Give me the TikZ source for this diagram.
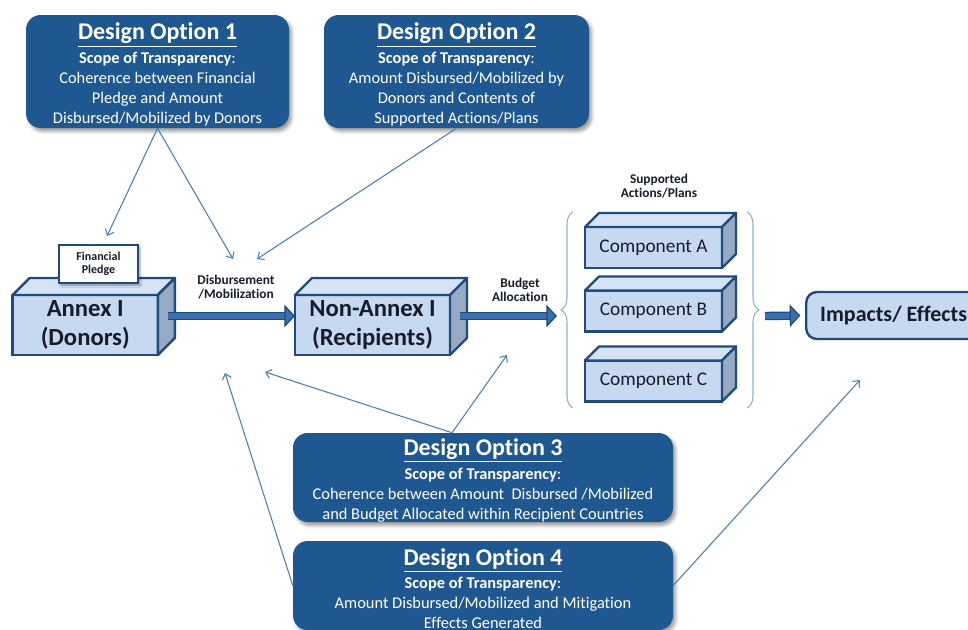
\documentclass[tikz,border=0pt]{standalone}
\usepackage{fontspec}
\setmainfont{Carlito}[Ligatures=NoCommon]
\usetikzlibrary{arrows.meta,calc,shadows.blur,decorations.pathreplacing}

\definecolor{optblue}{RGB}{31,87,145}
\definecolor{edgeblue}{RGB}{33,74,125}
\definecolor{facefill}{RGB}{198,217,241}
\definecolor{topfill}{RGB}{214,227,244}
\definecolor{sidefill}{RGB}{150,170,198}
\definecolor{linkblue}{RGB}{74,126,193}
\definecolor{flowblue}{RGB}{58,110,172}
\definecolor{inkdark}{RGB}{22,28,42}
\definecolor{bracecol}{RGB}{140,175,220}

\newcommand{\optiontitle}[1]{{\fontsize{18}{20}\selectfont\bfseries\rule{0pt}{17pt}\underline{#1}}\\[2.5pt]
  \textbf{Scope of Transparency}:\\}

\begin{document}
\begin{tikzpicture}[x=0.75pt, y=-0.75pt,
  option/.style={rounded corners=11pt, fill=optblue, text=white, align=center,
    font=\fontsize{12.3}{15}\selectfont, inner sep=0pt,
    blur shadow={shadow xshift=2pt, shadow yshift=-2.5pt, shadow blur radius=2.5pt}},
  front/.style={draw=edgeblue, line width=1.8pt, fill=facefill, text=inkdark,
    align=center, inner sep=0pt, outer sep=0pt},
  topface/.style={draw=edgeblue, line width=1.8pt, fill=topfill, line join=round},
  sideface/.style={draw=edgeblue, line width=1.8pt, fill=sidefill, line join=round},
  boxfont/.style={font=\fontsize{18.5}{21.75}\selectfont\bfseries},
  compfont/.style={font=\fontsize{14.5}{16}\selectfont},
  tag/.style={align=center, text=inkdark, font=\fontsize{10}{10.5}\selectfont\bfseries},
  link/.style={draw=linkblue, line width=0.8pt, -{Straight Barb[length=4pt, width=7pt]}},
  flow/.style={draw=edgeblue, line width=0.9pt, double=flowblue, double distance=4.5pt,
    -{Triangle[length=8pt, width=17pt, fill=flowblue]}},
  bracket/.style={draw=bracecol, line width=0.8pt, decorate,
    decoration={brace, amplitude=9pt}}
]
\clip (0,0) rectangle (968,629);

% design options
\node[option, minimum width=197.25pt, minimum height=84.75pt] (do1) at (157.5,71.5)
  {\optiontitle{Design Option 1}
   Coherence between Financial\\
   Pledge and Amount\\
   Disbursed/Mobilized by Donors};
\node[option, minimum width=198.75pt, minimum height=84.75pt] (do2) at (456.5,71.5)
  {\optiontitle{Design Option 2}
   Amount Disbursed/Mobilized by\\
   Donors and Contents of\\
   Supported Actions/Plans};
\node[option, minimum width=285pt, minimum height=66.75pt] (do3) at (483,477.5)
  {\optiontitle{Design Option 3}
   Coherence between Amount\ \ Disbursed /Mobilized\\
   and Budget Allocated within Recipient Countries};
\node[option, minimum width=285pt, minimum height=66.75pt] (do4) at (483,585.5)
  {\optiontitle{Design Option 4}
   Amount Disbursed/Mobilized and Mitigation\\
   Effects Generated};

% boxes
\node[front, boxfont, minimum width=109pt, minimum height=45pt] (annex) at (85.25,325)
  {Annex I\\(Donors)};
\node[front, boxfont, minimum width=116.25pt, minimum height=45pt] (nonannex) at (372.5,325)
  {Non-Annex I\\(Recipients)};
\node[front, compfont, minimum width=102.75pt, minimum height=30.75pt] (compA) at (653.5,247.5)
  {Component A};
\node[front, compfont, minimum width=102.75pt, minimum height=30.75pt] (compB) at (653.5,311)
  {Component B};
\node[front, compfont, minimum width=102.75pt, minimum height=30.75pt] (compC) at (653.5,381)
  {Component C};

\foreach \b/\d in {annex/17, nonannex/17, compA/14, compB/14, compC/14}{
  \draw[topface] (\b.north west) -- ++(\d,-\d) -- ($(\b.north east)+(\d,-\d)$)
    -- (\b.north east) -- cycle;
  \draw[sideface] (\b.north east) -- ++(\d,-\d) -- ($(\b.south east)+(\d,-\d)$)
    -- (\b.south east) -- cycle;
}

\node[draw=edgeblue, line width=1pt, fill=white, tag, font=\fontsize{9}{10}\selectfont\bfseries,
  minimum width=59.25pt, minimum height=28.5pt, inner sep=0pt,
  blur shadow={shadow xshift=1.5pt, shadow yshift=-1.5pt, shadow blur radius=1.5pt}]
  (pledge) at (98.5,264) {Financial\\Pledge};

\node[draw=edgeblue, line width=1.8pt, fill=facefill, rounded corners=8pt, anchor=west,
  text=inkdark, font=\fontsize{16.5}{18}\selectfont\bfseries, inner xsep=10.5pt,
  minimum height=35.25pt] (impacts) at (805,315.5) {Impacts/ Effects};

% labels
\node[tag] (disb) at (236,287) {Disbursement\\/Mobilization};
\node[tag] (budget) at (520,290) {Budget\\Allocation};
\node[tag] (supported) at (659,186) {Supported\\Actions/Plans};

% braces round the components
\coordinate (lbot) at (573,408);
\coordinate (ltop) at (573,212);
\coordinate (rtop) at (747,212);
\coordinate (rbot) at (747,408);
\draw[bracket] (lbot) -- (ltop);
\draw[bracket] (rtop) -- (rbot);
\coordinate (ltip) at (557,316);
\coordinate (rtip) at (765,316);

% main flow
\draw[flow] ($(annex.east)+(10,-9)$) -- ($(nonannex.west)+(0,-9)$);
\draw[flow] ($(nonannex.east)+(10,-9)$) -- (ltip);
\draw[flow, shorten >=3.5pt] (rtip) -- (impacts.west);

% pointers from the options
\coordinate (pledgetop) at (107,236);
\coordinate (disbA) at (233,259);
\coordinate (disbB) at (257,259);
\coordinate (annexlow) at (225,373);
\coordinate (gaplow) at (265,372);
\coordinate (budgetlow) at (507,355);
\coordinate (impactslow) at (860,380);
\coordinate (do3top) at ($(do3.north)+(-31,0)$);

\draw[link] (do1.south) -- (pledgetop);
\draw[link] (do1.south) -- (disbA);
\draw[link] (do2.south) -- (disbB);
\draw[link] (do3top) -- (gaplow);
\draw[link] (do3top) -- (budgetlow);
\draw[link] (do4.west) -- (annexlow);
\draw[link] (do4.east) -- (impactslow);
\end{tikzpicture}
\end{document}
